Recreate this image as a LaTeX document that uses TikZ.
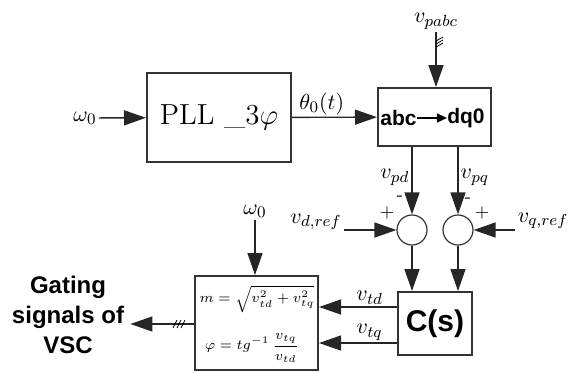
\documentclass[tikz,border=0pt]{standalone}
\usepackage{amsmath,amssymb}
\usepackage{fontspec}
\setsansfont{Liberation Sans}
\usetikzlibrary{positioning,arrows.meta}

\begin{document}
\begin{tikzpicture}[x=0.5pt,y=-0.5pt,
  blk/.style={draw=black!80, line width=1pt, inner sep=0pt},
  sumnode/.style={circle, draw=black!80, line width=0.6pt, minimum size=15pt, inner sep=0pt},
  sig/.style={-{Triangle[length=11pt,width=7.5pt]}, line width=0.7pt, draw=black!85},
  lbl/.style={font=\fontsize{11}{13}\selectfont, inner sep=1pt},
  sgn/.style={font=\fontsize{9}{11}\selectfont, inner sep=0pt}]
\useasboundingbox (0,0) rectangle (568,372);

% Blocks
\node[blk, minimum width=72pt, minimum height=44.5pt, font=\fontsize{14.5}{17}\selectfont] (pll) at (219,117.5) {PLL \_3$\varphi$};
\node[blk, minimum width=56.5pt, minimum height=29pt] (park) at (434.5,117) {};
\node[blk, minimum width=37pt, minimum height=31.5pt, font=\sffamily\bfseries\fontsize{15}{17}\selectfont] (ctrl) at (435,323.5) {C(s)};
\node[blk, minimum width=61.5pt, minimum height=47pt] (calc) at (256.5,323) {};

% Text inside the abc/dq0 block
\node[font=\sffamily\bfseries\fontsize{10.5}{12}\selectfont, inner sep=0pt] (abc) at (398.5,118) {abc};
\node[font=\sffamily\bfseries\fontsize{10.5}{12}\selectfont, inner sep=0pt] (dq) at (466,118) {dq0};
\draw[-{Triangle[length=5pt,width=4.5pt]}, line width=0.6pt] (abc) -- (dq);

% Formulas inside the modulation block
\node[font=\fontsize{7.2}{9}\selectfont, inner sep=0pt] (mfor) at (257,299) {$m=\sqrt{v_{td}^2+v_{tq}^2}$};
\node[font=\fontsize{7.2}{9}\selectfont, inner sep=0pt] (phifor) at (252,348) {$\varphi=tg^{-1}\,\dfrac{v_{tq}}{v_{td}}$};

% Summing junctions
\node[sumnode] (sd) at (412,230) {};
\node[sumnode] (sq) at (458,230) {};
\node[sgn] (sdm) at (400,198) {-};
\node[sgn] (sdp) at (387,213) {+};
\node[sgn] (sqm) at (468,200) {-};
\node[sgn] (sqp) at (482,213) {+};

% Input labels
\node[lbl] (w0a) at (85,118) {$\omega_0$};
\node[lbl, anchor=south] (vabc) at (436,32) {$v_{pabc}$};
\node[lbl] (vdr) at (316,222) {$v_{d,ref}$};
\node[lbl] (vqr) at (543,221) {$v_{q,ref}$};
\node[lbl] (w0b) at (255,211) {$\omega_0$};
\node[font=\sffamily\bfseries\fontsize{12}{15}\selectfont, align=center, inner sep=3pt] (gate) at (68,315) {Gating\\signals of\\VSC};

% Connectors
\draw[sig] (w0a) -- (pll);
\draw[sig] (pll) -- node[lbl, above, pos=0.35] {$\theta_0(t)$} (park);
\draw[sig] (vabc) -- (vabc |- park.north);
\draw[sig] (park.south -| sd) -- node[lbl, left, pos=0.45] {$v_{pd}$} (sd);
\draw[sig] (park.south -| sq) -- node[lbl, right, pos=0.45] {$v_{pq}$} (sq);
\draw[sig] (vdr.east |- sd) -- (sd);
\draw[sig] (vqr.west |- sq) -- (sq);
\draw[sig] (sd) -- (sd |- ctrl.north);
\draw[sig] (sq) -- (sq |- ctrl.north);
\draw[sig] ([yshift=8.25pt]ctrl.west) -- node[lbl, above, pos=0.35] {$v_{td}$} ([yshift=8.25pt]ctrl.west -| calc.east);
\draw[sig] ([yshift=-9.75pt]ctrl.west) -- node[lbl, above, pos=0.35] {$v_{tq}$} ([yshift=-9.75pt]ctrl.west -| calc.east);
\draw[sig] (w0b) -- (w0b |- calc.north);
\draw[sig] ([yshift=-0.5pt]calc.west) -- ([yshift=-0.5pt]calc.west -| gate.east);

% Bus marks
\foreach \y in {41,44,47} {
  \draw[line width=0.4pt] (436,\y) -- (443,\y-4);
}
\foreach \x in {173,177,181} {
  \draw[line width=0.4pt] (\x,328) -- (\x+4,320);
}
\end{tikzpicture}
\end{document}
